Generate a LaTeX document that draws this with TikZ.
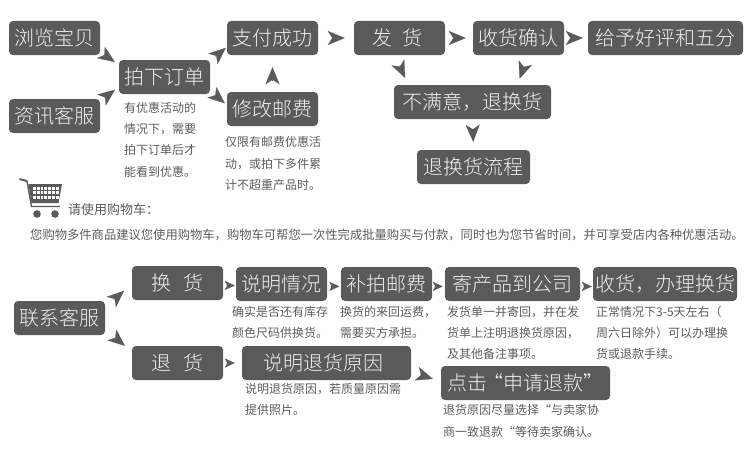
\documentclass[tikz,border=0pt]{standalone}
\usepackage{fontspec}
\setmainfont{Noto Sans CJK SC}
\newfontfamily\boxfont{Noto Sans CJK SC Light}
\usepackage{xcolor}
\usepackage{tikz}
\usetikzlibrary{arrows.meta}
\definecolor{boxgray}{HTML}{5A5A5A}
\definecolor{notegray}{HTML}{5C5C5C}
\tikzset{
    stepbox/.style={
        fill=boxgray,
        rounded corners=4pt,
        text=white!94!black,
        font=\boxfont\fontsize{20}{24}\selectfont,
        minimum height=34pt,
        inner sep=0pt,
        minimum width=#1
    },
    stepbox/.default=91pt,
    note/.style={
        anchor=west,
        align=left,
        inner sep=0pt,
        text=notegray,
        font=\fontsize{12}{21.3}\selectfont
    },
    bigarrow/.style={
        draw=boxgray,
        line width=0.2pt,
        -{Stealth[length=17pt,width=14pt,inset=4.5pt]}
    },
    smallarrow/.style={
        draw=boxgray,
        line width=0.2pt,
        -{Stealth[length=10pt,width=9pt,inset=2.5pt]}
    }
}
\begin{document}
\begin{tikzpicture}[x=1pt,y=-1pt]
    \useasboundingbox (0,0) rectangle (751,452);

    \node[stepbox] (browse) at (54.5,38) {浏览宝贝};
    \node[stepbox] (consult) at (54.5,116) {资讯客服};
    \node[stepbox] (order) at (164.5,77) {拍下订单};
    \node[stepbox] (pay) at (272.5,38) {支付成功};
    \node[stepbox] (modify) at (272.5,109) {修改邮费};
    \node[stepbox] (ship) at (399.5,38) {发\hspace{.5em}货\kern4pt};
    \node[stepbox] (confirm) at (518.5,38) {收货确认};
    \node[stepbox=155pt] (review) at (665.5,38) {给予好评和五分};
    \node[stepbox=157pt] (unhappy) at (472.5,102) {不满意，退换货};
    \node[stepbox=113pt] (flow) at (473.5,167) {退换货流程};

    \node[stepbox] (contact) at (59.5,318) {联系客服};
    \node[stepbox] (swap) at (177.5,283) {换\hspace{.6em}货};
    \node[stepbox] (explain) at (281.5,284) {说明情况};
    \node[stepbox] (repost) at (386.5,284) {补拍邮费};
    \node[stepbox=135pt] (sendback) at (512.5,284) {寄产品到公司};
    \node[stepbox=144pt] (receive) at (665,284) {收货，办理换货};
    \node[stepbox] (refund) at (177.5,363) {退\hspace{.6em}货};
    \node[stepbox=169pt] (reason) at (326.5,363) {说明退货原因\kern7pt};
    \node[stepbox=169pt] (apply) at (525.5,383) {点击\hspace{-4pt}“申请退款”};

    \node[note] (ordernote) at (124,139.75) {有优惠活动的\\情况下，需要\\拍下订单后才\\能看到优惠。};
    \node[note] (modifynote) at (225,163.5) {仅限有邮费优惠活\\动，或拍下多件累\\计不超重产品时。};
    \node[note,font=\fontsize{13}{16}\selectfont] (carttitle) at (68,210) {请使用购物车：};
    \node[note,font=\fontsize{12.3}{16}\selectfont] (cartnote) at (30,235) {您购物多件商品建议您使用购物车，购物车可帮您一次性完成批量购买与付款，同时也为您节省时间，并可享受店内各种优惠活动。};
    \node[note] (explainnote) at (232,322.5) {确实是否还有库存\\颜色尺码供换货。};
    \node[note] (repostnote) at (340,322.5) {换货的来回运费，\\需要买方承担。};
    \node[note] (sendbacknote) at (447,333) {发货单一并寄回，并在发\\货单上注明退换货原因，\\及其他备注事项。};
    \node[note] (receivenote) at (596,333) {正常情况下3-5天左右（\\周六日除外）可以办理换\\货或退款手续。};
    \node[note] (reasonnote) at (245,399.5) {说明退货原因，若质量原因需\\提供照片。};
    \node[note] (applynote) at (443,421) {退货原因尽量选择“与卖家协\\商一致退款“等待卖家确认。};

    \draw[bigarrow,shorten <=4.5pt,shorten >=4.8pt] (browse.-17) -- (order.165);
    \draw[bigarrow,shorten <=4.8pt,shorten >=4.9pt] (consult.18.7) -- (order.192.6);
    \draw[bigarrow,shorten <=6.8pt,shorten >=1.3pt] (order.19.8) -- (pay.191.4);
    \draw[bigarrow,shorten <=6.3pt,shorten >=2.6pt] (order.-17.2) -- (modify.175.9);
    \draw[bigarrow,shorten <=11.5pt,shorten >=12pt] (modify.north) -- (pay.south);
    \draw[bigarrow,shorten <=13.5pt,shorten >=9pt] (pay.east) -- (ship.west);
    \draw[bigarrow,shorten <=7.5pt,shorten >=7pt] (ship.east) -- (confirm.west);
    \draw[bigarrow,shorten <=5.5pt,shorten >=5pt] (confirm.east) -- (review.west);
    \draw[bigarrow,shorten <=11.4pt,shorten >=7.6pt] (ship.-106.4) -- (unhappy.165.5);
    \draw[bigarrow,shorten <=12.5pt,shorten >=6.5pt] (confirm.-61) -- (unhappy.21.6);
    \draw[bigarrow,shorten <=9.5pt,shorten >=8pt] (unhappy.south) -- (flow.north);

    \draw[bigarrow,shorten <=11.2pt,shorten >=10.4pt] (contact.13.8) -- (swap.181.6);
    \draw[bigarrow,shorten <=12.6pt,shorten >=9pt] (contact.-14.1) -- (refund.166.2);
    \draw[smallarrow,shorten <=3.5pt,shorten >=1pt] (swap.-3.8) -- (explain.182.5);
    \draw[smallarrow,shorten <=4pt,shorten >=1.5pt] (explain.-3.4) -- (repost.183.4);
    \draw[smallarrow,shorten <=2.5pt,shorten >=2pt] (repost.-3.4) -- (sendback.182.3);
    \draw[smallarrow,shorten <=3.5pt,shorten >=1pt] (sendback.-2.3) -- (receive.182.1);
    \draw[smallarrow,shorten <=3.5pt,shorten >=7pt] (refund.east) -- (reason.west);
    \draw[bigarrow,shorten <=9.3pt,shorten >=8.3pt] (reason.-6.9) -- (apply.179);

    % cart
    \draw[boxgray,line width=2pt] (19.5,179) -- (27,181);
    \draw[boxgray,line width=1.4pt] (27,181) -- (31.5,206.5) -- (60,206.5);
    \fill[boxgray] (28.5,184) -- (62,184) -- (58.5,203) -- (31.5,203) -- cycle;
    \foreach \row in {186.5,191,195.5} {
        \foreach \col in {33,36.8,...,56} {
            \fill[white] (\col,\row) rectangle (\col+2.8,\row+3);
        }
    }
    \fill[boxgray] (37,214) circle (3.8pt);
    \fill[boxgray] (55,214) circle (3.8pt);
\end{tikzpicture}
\end{document}
